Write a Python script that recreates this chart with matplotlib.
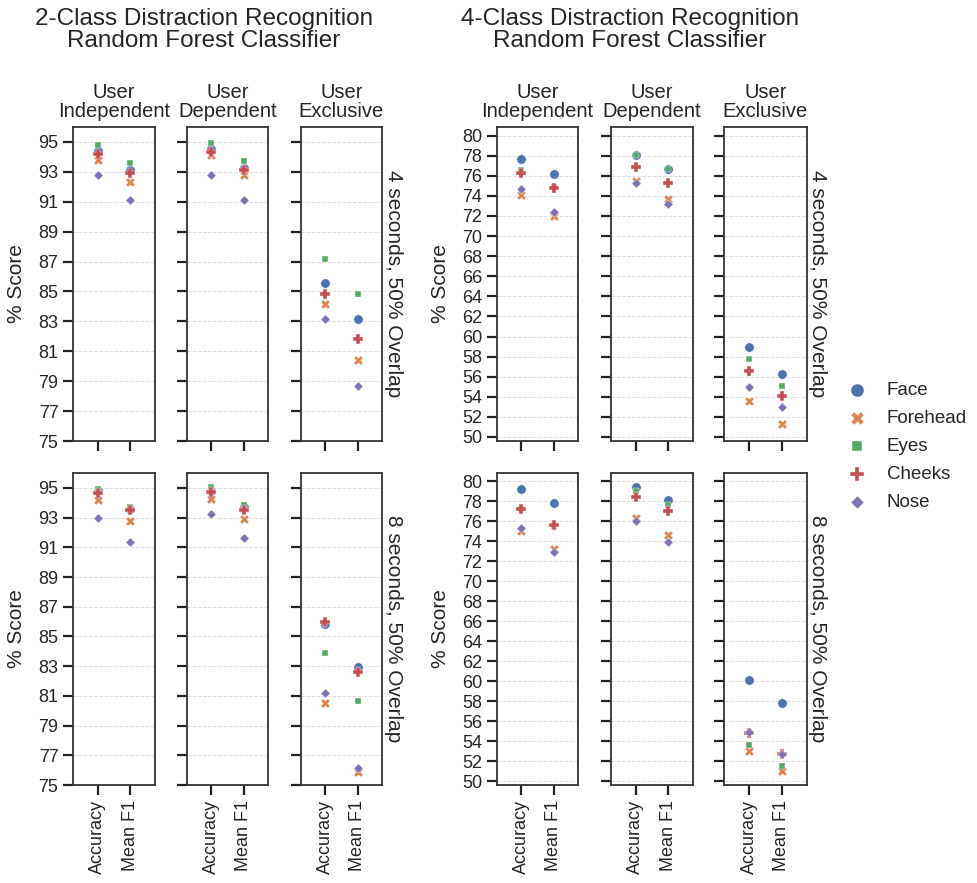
import numpy as np
import matplotlib
matplotlib.use('Agg')
import matplotlib.pyplot as plt

plt.rcParams['font.family'] = ['Liberation Sans', 'DejaVu Sans']

regions = ['Face', 'Forehead', 'Eyes', 'Cheeks', 'Nose']
metrics = ['Accuracy', 'Mean F1']
validations = ['User\nIndependent', 'User\nDependent', 'User\nExclusive']
windows = ['4 seconds, 50% Overlap', '8 seconds, 50% Overlap']

# values: [validation][metric][region]  (Face, Forehead, Eyes, Cheeks, Nose)
two_class_4s = np.array([
    [[94.4, 93.8, 94.8, 94.2, 92.8], [93.1, 92.3, 93.6, 92.9, 91.15]],
    [[94.5, 94.1, 94.93, 94.3, 92.76], [93.28, 92.76, 93.75, 93.1, 91.13]],
    [[85.54, 84.13, 87.17, 84.84, 83.17], [83.17, 80.44, 84.82, 81.8, 78.67]],
])
two_class_8s = np.array([
    [[94.78, 94.15, 94.9, 94.66, 92.96], [93.6, 92.76, 93.7, 93.52, 91.37]],
    [[94.8, 94.28, 95.04, 94.69, 93.23], [93.7, 92.9, 93.84, 93.54, 91.64]],
    [[85.86, 80.49, 83.89, 85.95, 81.2], [82.95, 75.9, 80.67, 82.6, 76.17]],
])
four_class_4s = np.array([
    [[77.64, 74.05, 76.58, 76.31, 74.68], [76.21, 72.03, 74.92, 74.75, 72.43]],
    [[78.1, 75.5, 78.1, 76.88, 75.32], [76.68, 73.69, 76.64, 75.32, 73.19]],
    [[59.0, 53.59, 57.8, 56.61, 54.95], [56.28, 51.33, 55.12, 54.05, 53.02]],
])
four_class_8s = np.array([
    [[79.23, 75.07, 77.2, 77.23, 75.33], [77.87, 73.2, 75.57, 75.63, 72.97]],
    [[79.4, 76.33, 79.07, 78.47, 76.0], [78.13, 74.6, 77.63, 77.03, 73.93]],
    [[60.1, 52.97, 53.57, 54.8, 54.9], [57.77, 50.97, 51.47, 52.72, 52.7]],
])

colors = ['#4C72B0', '#DD8452', '#55A868', '#C44E52', '#8172B3']
markers = ['o', 'X', (4, 0, 45), 'P', (4, 0, 0)]

W, H = 977, 883
fig = plt.figure(figsize=(W / 100, H / 100), dpi=100)


def px_axes(x0, x1, y0, y1):
    return fig.add_axes([x0 / W, 1 - y1 / H, (x1 - x0) / W, (y1 - y0) / H])


def draw_group(data_rows, xs, ylim, yticks, title, title_x, label_x, ylabel_x):
    rows_y = [(127, 441), (473, 785)]
    for r, data in enumerate(data_rows):
        y0, y1 = rows_y[r]
        for c, (x0, x1) in enumerate(xs):
            ax = px_axes(x0, x1, y0, y1)
            for k in range(len(regions)):
                ax.scatter(range(len(metrics)), data[c, :, k], marker=markers[k],
                           s=45, color=colors[k], edgecolor='white',
                           linewidth=0.3, zorder=3, label=regions[k])
            ax.set_xlim(-0.76, 1.76)
            ax.set_ylim(*ylim)
            ax.set_yticks(yticks)
            ax.set_xticks(range(len(metrics)))
            ax.grid(axis='y', color='#dddddd', linestyle='--', linewidth=0.7)
            ax.tick_params(direction='out', length=7, width=1.6, labelsize=13, color='#222222',
                           labelcolor='#262626')
            for s in ax.spines.values():
                s.set_color('#333333')
                s.set_linewidth(1.3)
            if r == 1:
                ax.set_xticklabels(metrics, rotation=90, fontsize=13)
            else:
                ax.set_xticklabels([])
            if c == 0:
                ax.set_ylabel('% Score', fontsize=15, color='#262626')
                ax.yaxis.set_label_coords((ylabel_x - x0) / (x1 - x0), 0.5)
            else:
                ax.set_yticklabels([])
            if r == 0:
                ax.set_title(validations[c], fontsize=14.5, pad=7, color='#262626',
                             linespacing=1.05)
            if c == len(xs) - 1:
                fig.text(label_x / W, 1 - (y0 + y1) / 2 / H, windows[r], rotation=-90,
                         fontsize=15, ha='center', va='center', color='#262626')
    fig.text(title_x / W, 1 - 30 / H, title, fontsize=17.5, ha='center', va='center',
             linespacing=1.05, color='#262626')
    return ax


draw_group([two_class_4s, two_class_8s], [(73, 155), (187, 268), (301, 382)],
           (75, 96), np.arange(75, 96, 2),
           '2-Class Distraction Recognition\nRandom Forest Classifier', 204, 394, 26)
ax = draw_group([four_class_4s, four_class_8s], [(497, 578), (611, 693), (724, 807)],
                (49.6, 80.85), np.arange(50, 81, 2),
                '4-Class Distraction Recognition\nRandom Forest Classifier', 630, 818, 450)

handles, labels = ax.get_legend_handles_labels()
leg = fig.legend(handles, labels, loc='center left', bbox_to_anchor=(821 / W, 1 - 446 / H),
                 frameon=False, fontsize=13.5, markerscale=1.4, handletextpad=0.6,
                 labelspacing=0.58)
for t in leg.get_texts():
    t.set_color('#262626')

fig.savefig('out.png', dpi=100)
